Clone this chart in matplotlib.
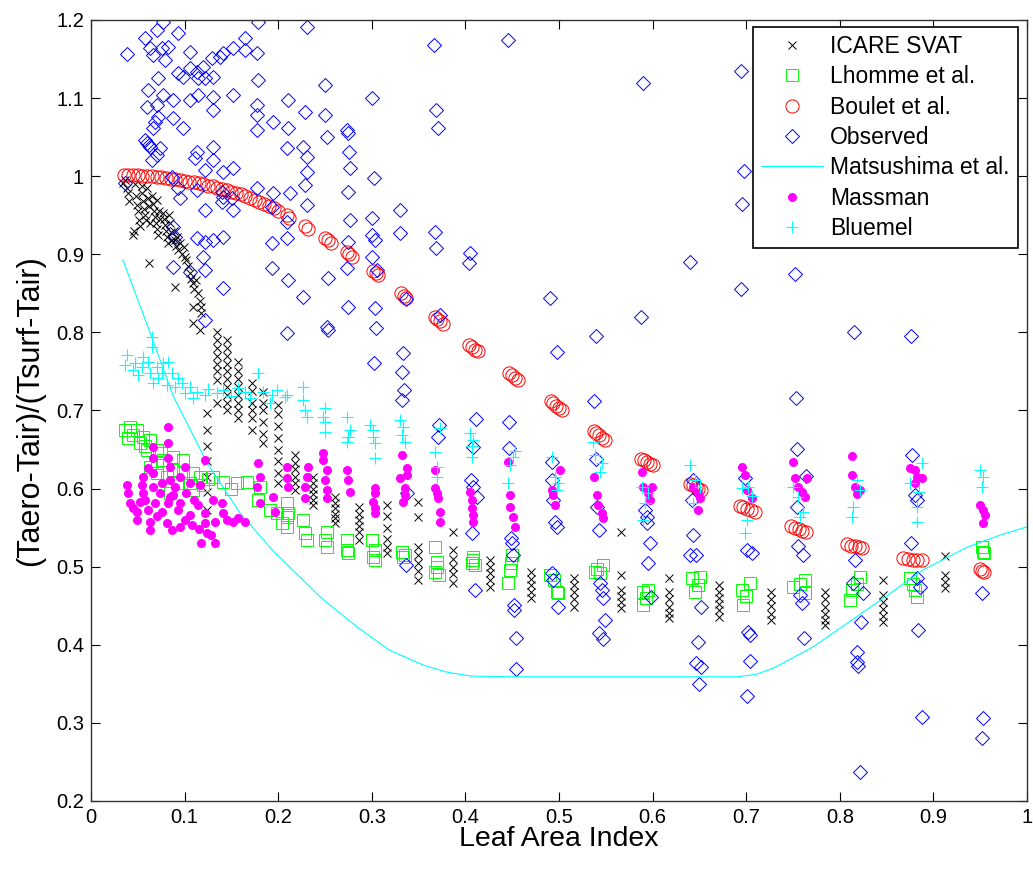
import matplotlib
matplotlib.use('Agg')
import matplotlib.pyplot as plt

plt.rcParams['font.family'] = ['Liberation Sans', 'DejaVu Sans']

# (LAI, (Taero-Tair)/(Tsurf-Tair)), one list per model

icare = [
    (0.034, 0.991), (0.036, 0.995), (0.038, 0.985), (0.040, 0.978), (0.041, 0.968),
    (0.045, 0.925), (0.047, 0.990), (0.048, 0.975), (0.049, 0.963), (0.050, 0.955), (0.051, 0.944), (0.052, 0.936), (0.046, 0.930),
    (0.054, 0.988), (0.055, 0.978), (0.056, 0.968), (0.057, 0.958), (0.058, 0.950), (0.059, 0.944), (0.060, 0.985), (0.061, 0.972),
    (0.062, 0.962), (0.063, 0.940), (0.062, 0.889),
    (0.065, 0.975), (0.066, 0.965), (0.067, 0.956), (0.068, 0.948), (0.069, 0.940), (0.070, 0.932), (0.071, 0.970), (0.072, 0.925),
    (0.073, 0.955), (0.074, 0.945),
    (0.077, 0.953), (0.078, 0.945), (0.079, 0.938), (0.080, 0.930), (0.081, 0.922), (0.082, 0.915), (0.083, 0.950), (0.084, 0.940),
    (0.085, 0.928), (0.087, 0.918),
    (0.089, 0.930), (0.090, 0.918), (0.091, 0.910), (0.092, 0.922), (0.093, 0.905), (0.095, 0.915), (0.097, 0.900), (0.099, 0.909),
    (0.100, 0.897), (0.090, 0.858),
    (0.102, 0.893), (0.104, 0.885), (0.106, 0.876), (0.107, 0.868), (0.109, 0.863), (0.110, 0.855), (0.112, 0.867), (0.114, 0.850),
    (0.116, 0.840), (0.117, 0.833), (0.118, 0.825), (0.109, 0.833), (0.109, 0.812), (0.116, 0.803),
    (0.124, 0.697), (0.124, 0.675), (0.124, 0.655), (0.124, 0.635), (0.124, 0.615), (0.124, 0.595), (0.124, 0.573),
    (0.135, 0.800), (0.135, 0.790), (0.135, 0.780), (0.135, 0.770), (0.135, 0.760), (0.135, 0.750), (0.135, 0.739), (0.135, 0.710),
    (0.145, 0.790), (0.145, 0.780), (0.145, 0.770), (0.145, 0.760), (0.145, 0.750), (0.145, 0.740), (0.145, 0.730), (0.145, 0.720),
    (0.145, 0.710), (0.145, 0.700),
    (0.157, 0.762), (0.157, 0.750), (0.157, 0.740), (0.157, 0.730), (0.157, 0.720), (0.157, 0.710), (0.157, 0.700), (0.157, 0.690),
    (0.172, 0.735), (0.172, 0.725), (0.172, 0.710), (0.172, 0.700), (0.172, 0.690), (0.172, 0.675),
    (0.184, 0.724), (0.184, 0.710), (0.184, 0.700), (0.184, 0.685), (0.184, 0.670), (0.184, 0.658),
    (0.200, 0.707), (0.200, 0.695), (0.200, 0.680), (0.200, 0.665), (0.200, 0.650), (0.200, 0.635), (0.200, 0.620), (0.200, 0.607),
    (0.218, 0.643), (0.218, 0.633), (0.218, 0.625), (0.218, 0.615), (0.218, 0.607), (0.218, 0.598),
    (0.237, 0.615), (0.237, 0.607), (0.237, 0.600), (0.237, 0.593), (0.237, 0.586), (0.237, 0.579),
    (0.261, 0.589), (0.261, 0.582), (0.261, 0.575), (0.261, 0.568), (0.261, 0.562), (0.261, 0.556),
    (0.286, 0.576), (0.286, 0.568), (0.286, 0.560), (0.286, 0.552), (0.286, 0.544), (0.286, 0.534),
    (0.316, 0.579), (0.316, 0.565), (0.316, 0.550), (0.316, 0.535), (0.316, 0.525), (0.316, 0.518),
    (0.349, 0.583), (0.349, 0.564), (0.349, 0.525), (0.349, 0.515), (0.349, 0.505), (0.349, 0.495), (0.349, 0.483),
    (0.387, 0.544), (0.387, 0.521), (0.387, 0.510), (0.387, 0.500), (0.387, 0.490), (0.387, 0.479),
    (0.426, 0.509), (0.426, 0.500), (0.426, 0.492), (0.426, 0.483), (0.426, 0.474),
    (0.470, 0.493), (0.470, 0.484), (0.470, 0.476), (0.470, 0.468), (0.470, 0.460),
    (0.516, 0.486), (0.516, 0.476), (0.516, 0.467), (0.516, 0.458), (0.516, 0.448),
    (0.566, 0.544), (0.566, 0.489), (0.566, 0.470), (0.566, 0.462), (0.566, 0.455), (0.566, 0.447),
    (0.618, 0.486), (0.618, 0.468), (0.618, 0.458), (0.618, 0.449), (0.618, 0.441), (0.618, 0.434),
    (0.671, 0.477), (0.671, 0.468), (0.671, 0.460), (0.671, 0.452), (0.671, 0.444), (0.671, 0.436),
    (0.726, 0.468), (0.726, 0.458), (0.726, 0.450), (0.726, 0.440), (0.726, 0.432),
    (0.784, 0.468), (0.784, 0.458), (0.784, 0.449), (0.784, 0.440), (0.784, 0.432), (0.784, 0.425),
    (0.846, 0.483), (0.846, 0.464), (0.846, 0.455), (0.846, 0.446), (0.846, 0.437), (0.846, 0.429),
    (0.912, 0.514), (0.912, 0.489), (0.912, 0.481), (0.912, 0.473),
]

lhomme = [
    (0.036, 0.675), (0.042, 0.679), (0.049, 0.675), (0.056, 0.666), (0.052, 0.658), (0.063, 0.662), (0.060, 0.649), (0.070, 0.649),
    (0.070, 0.633), (0.063, 0.628), (0.077, 0.637), (0.088, 0.640), (0.088, 0.624), (0.081, 0.615), (0.098, 0.637), (0.098, 0.620),
    (0.109, 0.620), (0.116, 0.615), (0.106, 0.607), (0.092, 0.607), (0.084, 0.594), (0.130, 0.615), (0.141, 0.609), (0.156, 0.607),
    (0.167, 0.609), (0.181, 0.602), (0.178, 0.585), (0.191, 0.573), (0.199, 0.569), (0.204, 0.556), (0.209, 0.564), (0.109, 0.598),
    (0.070, 0.620), (0.040, 0.665), (0.045, 0.668), (0.058, 0.655), (0.075, 0.645), (0.120, 0.605), (0.125, 0.612), (0.150, 0.600),
    (0.209, 0.582), (0.210, 0.569), (0.209, 0.551), (0.227, 0.560), (0.229, 0.543), (0.231, 0.534),
    (0.252, 0.544), (0.250, 0.534), (0.252, 0.525), (0.273, 0.534), (0.273, 0.521), (0.275, 0.518),
    (0.300, 0.534), (0.303, 0.521), (0.303, 0.509), (0.301, 0.512),
    (0.332, 0.519), (0.333, 0.512), (0.335, 0.515), (0.368, 0.525), (0.370, 0.506), (0.368, 0.493), (0.370, 0.500), (0.372, 0.489),
    (0.408, 0.512), (0.407, 0.505), (0.408, 0.509), (0.410, 0.502), (0.450, 0.515), (0.448, 0.496), (0.446, 0.479), (0.449, 0.505),
    (0.490, 0.489), (0.498, 0.468), (0.499, 0.466), (0.495, 0.483), (0.538, 0.493), (0.547, 0.502), (0.544, 0.492), (0.541, 0.497),
    (0.590, 0.468), (0.590, 0.451), (0.595, 0.470), (0.593, 0.460), (0.642, 0.486), (0.645, 0.468), (0.651, 0.487), (0.648, 0.477),
    (0.696, 0.470), (0.697, 0.451), (0.704, 0.479), (0.700, 0.463), (0.750, 0.474), (0.763, 0.483), (0.763, 0.466), (0.757, 0.478),
    (0.813, 0.470), (0.811, 0.457), (0.822, 0.487), (0.818, 0.478), (0.875, 0.486), (0.880, 0.470), (0.882, 0.461), (0.878, 0.478),
    (0.953, 0.519), (0.952, 0.525), (0.954, 0.517),
]

boulet = [
    (0.035, 1.002), (0.040, 1.002), (0.045, 1.001), (0.050, 1.001), (0.055, 1.000), (0.060, 1.000), (0.065, 1.000), (0.070, 0.999),
    (0.075, 0.999), (0.080, 0.998), (0.085, 0.997), (0.090, 0.996), (0.095, 0.995), (0.100, 0.994), (0.105, 0.993), (0.110, 0.992),
    (0.115, 0.991), (0.120, 0.990), (0.125, 0.988), (0.130, 0.987), (0.135, 0.985), (0.140, 0.984), (0.145, 0.982), (0.150, 0.980),
    (0.155, 0.978), (0.160, 0.977), (0.165, 0.974), (0.170, 0.972), (0.175, 0.970), (0.180, 0.967), (0.185, 0.965), (0.190, 0.962),
    (0.195, 0.959), (0.200, 0.956),
    (0.209, 0.950), (0.212, 0.947), (0.229, 0.936), (0.232, 0.933),
    (0.250, 0.921), (0.253, 0.918), (0.256, 0.915), (0.273, 0.903), (0.276, 0.900), (0.279, 0.897),
    (0.301, 0.879), (0.304, 0.876), (0.307, 0.873), (0.331, 0.850), (0.334, 0.847), (0.337, 0.844),
    (0.367, 0.820), (0.370, 0.817), (0.373, 0.814), (0.376, 0.811), (0.404, 0.784), (0.407, 0.781), (0.410, 0.778), (0.413, 0.776),
    (0.447, 0.748), (0.450, 0.745), (0.453, 0.742), (0.456, 0.739),
    (0.491, 0.712), (0.494, 0.709), (0.497, 0.706), (0.500, 0.703), (0.503, 0.701),
    (0.537, 0.674), (0.540, 0.671), (0.543, 0.668), (0.546, 0.665), (0.549, 0.662),
    (0.588, 0.638), (0.591, 0.636), (0.594, 0.634), (0.597, 0.632), (0.600, 0.630),
    (0.640, 0.606), (0.643, 0.604), (0.646, 0.602), (0.649, 0.600), (0.652, 0.598),
    (0.693, 0.578), (0.697, 0.576), (0.701, 0.574), (0.705, 0.572), (0.709, 0.570),
    (0.748, 0.552), (0.752, 0.550), (0.756, 0.548), (0.760, 0.546), (0.764, 0.545),
    (0.808, 0.529), (0.812, 0.527), (0.816, 0.526), (0.820, 0.525), (0.824, 0.524),
    (0.868, 0.511), (0.873, 0.510), (0.878, 0.509), (0.883, 0.508), (0.888, 0.508),
    (0.950, 0.497), (0.952, 0.495), (0.954, 0.493),
]

observed = [
    (0.038, 1.157), (0.058, 1.177), (0.077, 1.197), (0.070, 1.187), (0.063, 1.164), (0.066, 1.155), (0.076, 1.164), (0.082, 1.165),
    (0.093, 1.183), (0.079, 1.149), (0.106, 1.159), (0.093, 1.132), (0.106, 1.139), (0.113, 1.133), (0.120, 1.140), (0.129, 1.151),
    (0.138, 1.153), (0.141, 1.158), (0.152, 1.164), (0.165, 1.177), (0.165, 1.162), (0.177, 1.158), (0.178, 1.197), (0.178, 1.123),
    (0.231, 1.191), (0.250, 1.117), (0.072, 1.126), (0.098, 1.127), (0.114, 1.126), (0.122, 1.126), (0.130, 1.127), (0.061, 1.110),
    (0.077, 1.104), (0.088, 1.098), (0.106, 1.098), (0.114, 1.104), (0.130, 1.101), (0.152, 1.104), (0.130, 1.085), (0.060, 1.089),
    (0.070, 1.091), (0.072, 1.076), (0.068, 1.069), (0.066, 1.062), (0.088, 1.075), (0.098, 1.062), (0.058, 1.046), (0.060, 1.042),
    (0.062, 1.040), (0.063, 1.038), (0.177, 1.091), (0.177, 1.078), (0.177, 1.059), (0.194, 1.069), (0.210, 1.098), (0.210, 1.062),
    (0.209, 1.036), (0.229, 1.082), (0.227, 1.037), (0.250, 1.078), (0.252, 1.050), (0.231, 1.025), (0.231, 1.005), (0.229, 0.989),
    (0.231, 0.963), (0.074, 1.036), (0.070, 1.027), (0.065, 1.021), (0.113, 1.031), (0.111, 1.023), (0.130, 1.037), (0.130, 1.021),
    (0.122, 1.008), (0.141, 1.005), (0.152, 1.010), (0.087, 0.999), (0.093, 0.985), (0.095, 0.972), (0.113, 0.982), (0.122, 0.957),
    (0.141, 0.973), (0.140, 0.967), (0.151, 0.972), (0.152, 0.957), (0.177, 0.985), (0.194, 0.978), (0.193, 0.960), (0.213, 0.978),
    (0.036, 0.991), (0.140, 0.980),
    (0.113, 0.921), (0.122, 0.916), (0.141, 0.922), (0.130, 0.918), (0.193, 0.914), (0.193, 0.882), (0.088, 0.935), (0.090, 0.922),
    (0.120, 0.897), (0.122, 0.880), (0.088, 0.884), (0.106, 0.877), (0.141, 0.857), (0.122, 0.816),
    (0.366, 1.168), (0.446, 1.174), (0.300, 1.100), (0.369, 1.085), (0.371, 1.062), (0.273, 1.059), (0.275, 1.055), (0.276, 1.031),
    (0.277, 1.010), (0.275, 0.980), (0.302, 0.998), (0.330, 0.957),
    (0.209, 0.941), (0.209, 0.921), (0.277, 0.944), (0.300, 0.946), (0.330, 0.927), (0.275, 0.916), (0.300, 0.925), (0.303, 0.918),
    (0.300, 0.897), (0.273, 0.882), (0.306, 0.880), (0.368, 0.929), (0.369, 0.908), (0.405, 0.902), (0.404, 0.889), (0.210, 0.867),
    (0.253, 0.870), (0.226, 0.845), (0.275, 0.833), (0.303, 0.831), (0.337, 0.843), (0.373, 0.822), (0.490, 0.844), (0.209, 0.799),
    (0.252, 0.807), (0.253, 0.803), (0.304, 0.806), (0.333, 0.774), (0.302, 0.761), (0.332, 0.749), (0.334, 0.726), (0.498, 0.775),
    (0.590, 1.119), (0.694, 1.135), (0.698, 1.007), (0.696, 0.964), (0.640, 0.890),
    (0.694, 0.856), (0.752, 0.875), (0.815, 0.800), (0.876, 0.795), (0.588, 0.820), (0.540, 0.795),
    (0.332, 0.713), (0.411, 0.689), (0.447, 0.685), (0.372, 0.681), (0.371, 0.666), (0.408, 0.653), (0.447, 0.652), (0.406, 0.611),
    (0.408, 0.602), (0.412, 0.589), (0.338, 0.594), (0.407, 0.543), (0.449, 0.537), (0.450, 0.530), (0.451, 0.515), (0.337, 0.502),
    (0.537, 0.712), (0.493, 0.634), (0.493, 0.611), (0.494, 0.585), (0.496, 0.557), (0.498, 0.551), (0.540, 0.638), (0.541, 0.577),
    (0.543, 0.547), (0.592, 0.573), (0.594, 0.564), (0.594, 0.556), (0.597, 0.530), (0.595, 0.505), (0.643, 0.611), (0.642, 0.585),
    (0.643, 0.541), (0.640, 0.515), (0.646, 0.515), (0.699, 0.614), (0.701, 0.521), (0.706, 0.518), (0.493, 0.492),
    (0.753, 0.716), (0.754, 0.651), (0.764, 0.616), (0.754, 0.576), (0.755, 0.527), (0.761, 0.515), (0.816, 0.509), (0.877, 0.643),
    (0.880, 0.592), (0.882, 0.585), (0.876, 0.530),
    (0.494, 0.483), (0.499, 0.448), (0.544, 0.479), (0.546, 0.470), (0.547, 0.460), (0.549, 0.432), (0.543, 0.415), (0.547, 0.408),
    (0.598, 0.461), (0.652, 0.448), (0.648, 0.404), (0.646, 0.377), (0.652, 0.372), (0.650, 0.350), (0.702, 0.416), (0.704, 0.413),
    (0.704, 0.379), (0.701, 0.334), (0.757, 0.464), (0.760, 0.454), (0.762, 0.409), (0.814, 0.479), (0.825, 0.466), (0.823, 0.429),
    (0.818, 0.391), (0.818, 0.378), (0.819, 0.373), (0.822, 0.237), (0.882, 0.486), (0.886, 0.474), (0.884, 0.419), (0.888, 0.308),
    (0.952, 0.466), (0.953, 0.306), (0.952, 0.281),
    (0.410, 0.470), (0.452, 0.451), (0.452, 0.445), (0.454, 0.409), (0.454, 0.369),
]

matsushima_lai = [0.034, 0.063, 0.088, 0.124, 0.159, 0.194, 0.245, 0.284, 0.319, 0.355, 0.380, 0.405, 0.450,
                  0.550, 0.650, 0.690, 0.710, 0.729, 0.771, 0.818, 0.854, 0.889, 0.936, 0.970, 1.000]
matsushima_val = [0.893, 0.800, 0.718, 0.633, 0.569, 0.521, 0.461, 0.423, 0.393, 0.374, 0.365, 0.360, 0.359,
                  0.359, 0.359, 0.359, 0.362, 0.370, 0.397, 0.436, 0.466, 0.496, 0.525, 0.540, 0.551]

massman = [
    (0.082, 0.679), (0.082, 0.658), (0.066, 0.653), (0.066, 0.639), (0.122, 0.637), (0.082, 0.639), (0.084, 0.628), (0.100, 0.628),
    (0.061, 0.626), (0.056, 0.615), (0.066, 0.620), (0.095, 0.615), (0.084, 0.611), (0.038, 0.605), (0.054, 0.605), (0.076, 0.607),
    (0.106, 0.607), (0.116, 0.605), (0.066, 0.602), (0.090, 0.602), (0.040, 0.594), (0.056, 0.594), (0.074, 0.594), (0.084, 0.589),
    (0.102, 0.594), (0.042, 0.582), (0.052, 0.583), (0.068, 0.582), (0.082, 0.582), (0.095, 0.582), (0.114, 0.579), (0.140, 0.582),
    (0.130, 0.585), (0.049, 0.570), (0.061, 0.573), (0.076, 0.570), (0.093, 0.573), (0.106, 0.566), (0.122, 0.569), (0.141, 0.569),
    (0.049, 0.560), (0.063, 0.557), (0.081, 0.556), (0.095, 0.551), (0.108, 0.553), (0.122, 0.556), (0.132, 0.557), (0.152, 0.557),
    (0.165, 0.557), (0.063, 0.547), (0.087, 0.547), (0.124, 0.543), (0.132, 0.530), (0.178, 0.633), (0.181, 0.615), (0.177, 0.602),
    (0.194, 0.589), (0.181, 0.582), (0.209, 0.628), (0.209, 0.614), (0.197, 0.570),
    (0.045, 0.575), (0.070, 0.565), (0.100, 0.560), (0.115, 0.548), (0.128, 0.540), (0.058, 0.585), (0.088, 0.592), (0.110, 0.585),
    (0.145, 0.560), (0.157, 0.562), (0.118, 0.530),
    (0.210, 0.602), (0.232, 0.628), (0.231, 0.615), (0.229, 0.602), (0.229, 0.588),
    (0.248, 0.646), (0.248, 0.637), (0.252, 0.624), (0.250, 0.611), (0.252, 0.598), (0.252, 0.588),
    (0.273, 0.624), (0.275, 0.611), (0.277, 0.596),
    (0.303, 0.601), (0.303, 0.594), (0.301, 0.583), (0.303, 0.575), (0.303, 0.569),
    (0.332, 0.643), (0.338, 0.626), (0.338, 0.617), (0.330, 0.614), (0.335, 0.601), (0.335, 0.592), (0.333, 0.583),
    (0.368, 0.624), (0.368, 0.601), (0.370, 0.594), (0.371, 0.588), (0.373, 0.570), (0.373, 0.557),
    (0.405, 0.596), (0.407, 0.585), (0.407, 0.575), (0.408, 0.566), (0.408, 0.557),
    (0.446, 0.634), (0.448, 0.592), (0.448, 0.577), (0.451, 0.564), (0.453, 0.551),
    (0.501, 0.624), (0.493, 0.598), (0.494, 0.592), (0.496, 0.579),
    (0.537, 0.615), (0.541, 0.592), (0.542, 0.579), (0.546, 0.569), (0.547, 0.562),
    (0.589, 0.621), (0.590, 0.602), (0.599, 0.602), (0.595, 0.594), (0.597, 0.585),
    (0.643, 0.602), (0.648, 0.594), (0.651, 0.588), (0.648, 0.573),
    (0.696, 0.628), (0.699, 0.617), (0.701, 0.598), (0.706, 0.588),
    (0.750, 0.634), (0.752, 0.614), (0.755, 0.602), (0.763, 0.589), (0.760, 0.596), (0.765, 0.614),
    (0.813, 0.642), (0.813, 0.617), (0.816, 0.602), (0.822, 0.598), (0.818, 0.593),
    (0.875, 0.626), (0.880, 0.624), (0.882, 0.615), (0.888, 0.614), (0.880, 0.607),
    (0.950, 0.579), (0.953, 0.573), (0.955, 0.566), (0.953, 0.556),
]

bluemel = [
    (0.065, 0.794), (0.065, 0.781), (0.038, 0.771), (0.036, 0.758), (0.047, 0.761), (0.056, 0.769), (0.054, 0.756), (0.061, 0.762),
    (0.070, 0.756), (0.077, 0.761), (0.082, 0.762), (0.063, 0.748), (0.076, 0.748), (0.087, 0.748), (0.093, 0.742), (0.066, 0.735),
    (0.081, 0.733), (0.097, 0.735), (0.106, 0.730), (0.113, 0.724), (0.122, 0.720), (0.135, 0.722), (0.141, 0.726), (0.157, 0.729),
    (0.165, 0.724), (0.178, 0.748), (0.184, 0.724), (0.193, 0.720), (0.199, 0.726), (0.207, 0.717), (0.109, 0.716), (0.191, 0.710),
    (0.045, 0.752), (0.050, 0.745), (0.072, 0.742), (0.090, 0.730), (0.100, 0.722), (0.125, 0.727), (0.150, 0.718), (0.170, 0.716),
    (0.209, 0.720), (0.226, 0.730), (0.226, 0.713), (0.229, 0.701), (0.231, 0.692),
    (0.250, 0.703), (0.248, 0.692), (0.250, 0.685), (0.250, 0.672),
    (0.273, 0.692), (0.277, 0.675), (0.275, 0.666), (0.273, 0.660),
    (0.298, 0.681), (0.301, 0.675), (0.301, 0.666), (0.303, 0.658), (0.303, 0.639),
    (0.330, 0.688), (0.333, 0.679), (0.332, 0.669), (0.335, 0.660),
    (0.368, 0.647), (0.370, 0.628), (0.370, 0.615), (0.373, 0.678),
    (0.405, 0.671), (0.408, 0.662), (0.407, 0.655), (0.407, 0.640),
    (0.448, 0.630), (0.451, 0.640), (0.446, 0.607), (0.453, 0.648),
    (0.493, 0.640), (0.496, 0.615), (0.499, 0.607), (0.498, 0.598),
    (0.536, 0.660), (0.538, 0.643), (0.546, 0.633), (0.544, 0.621),
    (0.589, 0.602), (0.595, 0.594), (0.592, 0.582), (0.590, 0.560),
    (0.640, 0.630), (0.645, 0.611), (0.651, 0.602), (0.643, 0.582),
    (0.696, 0.601), (0.702, 0.602), (0.701, 0.560), (0.699, 0.543), (0.706, 0.590),
    (0.750, 0.602), (0.755, 0.589), (0.761, 0.570), (0.757, 0.564),
    (0.818, 0.611), (0.822, 0.598), (0.814, 0.576), (0.813, 0.564),
    (0.888, 0.633), (0.875, 0.607), (0.882, 0.576), (0.882, 0.557), (0.885, 0.595),
    (0.950, 0.624), (0.953, 0.615), (0.952, 0.602),
]

x_ticks = [0, 0.1, 0.2, 0.3, 0.4, 0.5, 0.6, 0.7, 0.8, 0.9, 1]
x_labels = ['0', '0.1', '0.2', '0.3', '0.4', '0.5', '0.6', '0.7', '0.8', '0.9', '1']
y_ticks = [0.2, 0.3, 0.4, 0.5, 0.6, 0.7, 0.8, 0.9, 1.0, 1.1, 1.2]
y_labels = ['0.2', '0.3', '0.4', '0.5', '0.6', '0.7', '0.8', '0.9', '1', '1.1', '1.2']


def xy(points):
    return [p[0] for p in points], [p[1] for p in points]


fig = plt.figure(figsize=(10.33, 8.73), dpi=100)
ax = fig.add_axes([0.0881, 0.0825, 0.9061, 0.8946])

ax.plot(*xy(icare), 'x', color='k', ms=5.5, mew=0.7, label='ICARE SVAT')
ax.plot(*xy(lhomme), 's', color='#00ff00', mfc='none', ms=9, mew=0.7, label='Lhomme et al.')
ax.plot(*xy(boulet), 'o', color='#ff0000', mfc='none', ms=9.5, mew=0.7, label='Boulet et al.')
ax.plot(*xy(observed), 'D', color='#0000ff', mfc='none', ms=7, mew=0.7, label='Observed')
ax.plot(matsushima_lai, matsushima_val, '-', color='#00ffff', lw=0.8, label='Matsushima et al.')
ax.plot(*xy(massman), 'o', color='#ff00ff', ms=6.5, mew=0, label='Massman')
ax.plot(*xy(bluemel), '+', color='#00ffff', ms=8.5, mew=0.8, label='Bluemel')

ax.set_xlim(0, 1)
ax.set_ylim(0.2, 1.2)
ax.set_xticks(x_ticks)
ax.set_xticklabels(x_labels)
ax.set_yticks(y_ticks)
ax.set_yticklabels(y_labels)
ax.tick_params(direction='in', length=6.5, width=0.8, top=True, right=True, labelsize=14.5, pad=5)
for s in ax.spines.values():
    s.set_linewidth(1.0)
    s.set_color('#333333')

ax.set_xlabel('Leaf Area Index', fontsize=20.5, labelpad=-1)
ax.set_ylabel('(Taero-Tair)/(Tsurf-Tair)', fontsize=22, labelpad=8)

leg = ax.legend(loc='upper right', bbox_to_anchor=(0.990, 0.991), fontsize=16.5, numpoints=1,
                fancybox=False, framealpha=1, edgecolor='k', borderaxespad=0, borderpad=0.35,
                labelspacing=0.32, handlelength=2.7, handletextpad=0.3)
leg.get_frame().set_linewidth(1.2)

fig.savefig('out.png', dpi=100)
